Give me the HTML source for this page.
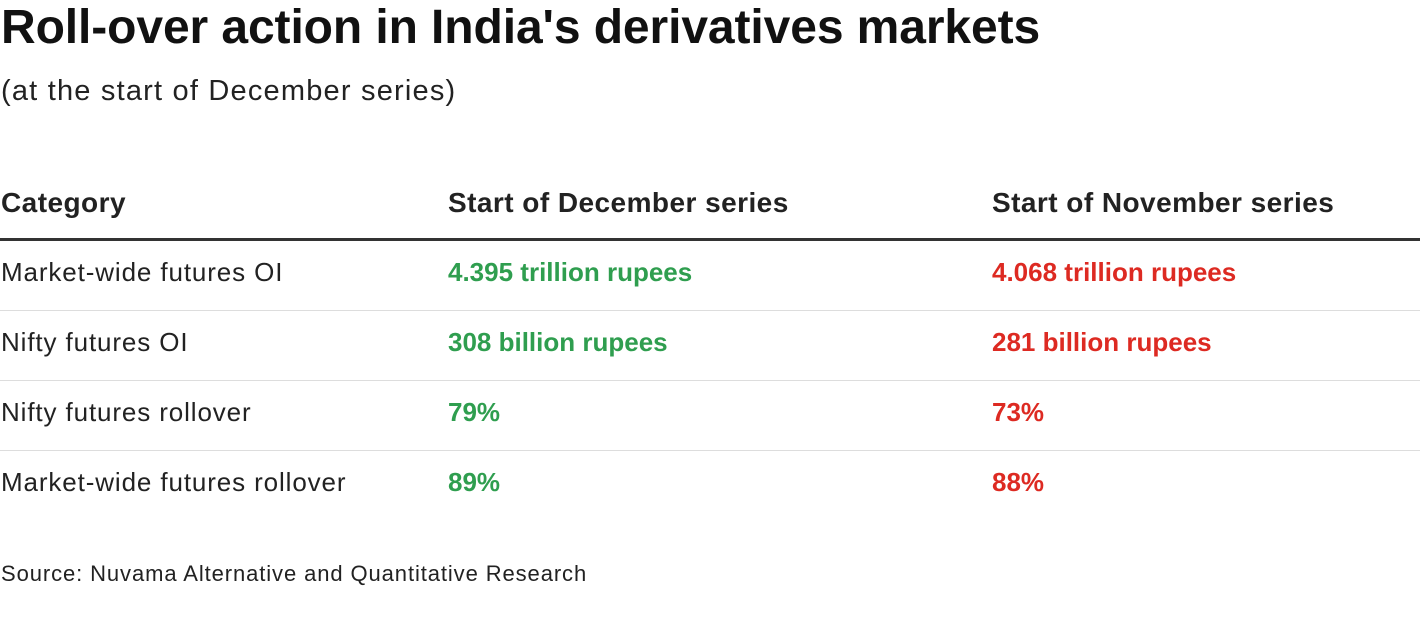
<!DOCTYPE html>
<html><head><style>
body{margin:0;width:1420px;height:622px;background:#fff;font-family:"Liberation Sans",sans-serif;color:#111;position:relative;overflow:hidden}
.a{position:absolute;white-space:nowrap;line-height:1}
.t{font-size:48px;font-weight:bold;letter-spacing:-0.1px;left:1px;top:4px}
.s{font-size:29px;left:1px;top:77px;color:#222;letter-spacing:1.2px}
.h{font-size:28px;font-weight:bold;top:189px;color:#222;letter-spacing:0.45px}
.r{font-size:26px;color:#222;letter-spacing:0.88px}
.g{color:#2f9e4f;font-weight:bold;letter-spacing:0}
.d{color:#dd2a22;font-weight:bold;letter-spacing:0}
.ln{position:absolute;left:0;width:1420px;height:1px;background:#ddd}
</style></head><body>
<div class="a t">Roll-over action in India's derivatives markets</div>
<div class="a s">(at the start of December series)</div>
<div class="a h" style="left:1px">Category</div>
<div class="a h" style="left:448px">Start of December series</div>
<div class="a h" style="left:992px">Start of November series</div>
<div class="ln" style="top:238px;height:3px;background:#333"></div>
<div class="a r" style="left:1px;top:259px">Market-wide futures OI</div>
<div class="a r g" style="left:448px;top:259px">4.395 trillion rupees</div>
<div class="a r d" style="left:992px;top:259px">4.068 trillion rupees</div>
<div class="ln" style="top:310px"></div>
<div class="a r" style="left:1px;top:329px">Nifty futures OI</div>
<div class="a r g" style="left:448px;top:329px">308 billion rupees</div>
<div class="a r d" style="left:992px;top:329px">281 billion rupees</div>
<div class="ln" style="top:380px"></div>
<div class="a r" style="left:1px;top:399px">Nifty futures rollover</div>
<div class="a r g" style="left:448px;top:399px">79%</div>
<div class="a r d" style="left:992px;top:399px">73%</div>
<div class="ln" style="top:450px"></div>
<div class="a r" style="left:1px;top:469px">Market-wide futures rollover</div>
<div class="a r g" style="left:448px;top:469px">89%</div>
<div class="a r d" style="left:992px;top:469px">88%</div>
<div class="a" style="left:1px;top:563px;font-size:22px;color:#222;letter-spacing:0.9px">Source: Nuvama Alternative and Quantitative Research</div>
</body></html>
